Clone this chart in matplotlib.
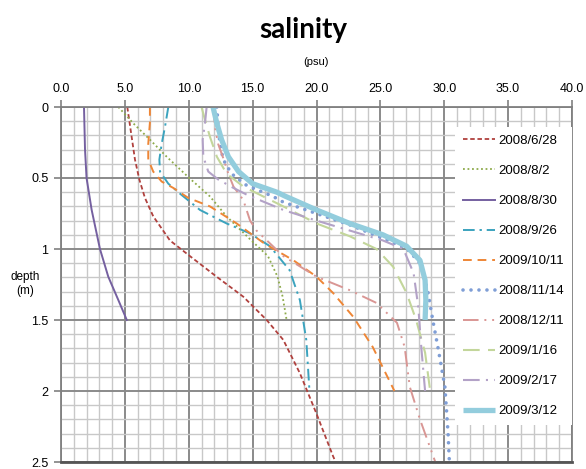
import numpy as np
import matplotlib
matplotlib.use('Agg')
import matplotlib.pyplot as plt
from matplotlib.ticker import MultipleLocator

# Perfiles de salinidad (psu) vs profundidad (m)
labels = ['2008/6/28', '2008/8/2', '2008/8/30', '2008/9/26', '2009/10/11',
          '2008/11/14', '2008/12/11', '2009/1/16', '2009/2/17', '2009/3/12']

d_0628 = [0, 0.21, 0.37, 0.51, 0.64, 0.77, 0.94, 1.05, 1.195, 1.336, 1.5, 1.64, 1.875, 2.16, 2.46, 2.5]
s_0628 = [5.19, 5.53, 5.79, 6.13, 6.57, 7.22, 8.53, 10.09, 12.18, 14.27, 16.1, 17.4, 18.7, 20.0, 21.3, 21.5]

d_0802 = [0, 0.115, 0.23, 0.35, 0.50, 0.63, 0.77, 0.94, 1.05, 1.195, 1.336, 1.5]
s_0802 = [4.49, 5.66, 6.96, 8.27, 10.04, 11.66, 12.96, 14.9, 16.2, 16.95, 17.35, 17.66]

d_0830 = [0, 0.3, 0.5, 0.725, 1.0, 1.195, 1.36, 1.5]
s_0830 = [1.8, 1.88, 2.0, 2.4, 3.05, 3.7, 4.49, 5.15]

d_0926 = [0, 0.14, 0.26, 0.37, 0.455, 0.54, 0.61, 0.725, 0.82, 0.89, 0.98, 1.15, 1.36, 1.64, 2.0]
s_0926 = [8.4, 8.14, 7.88, 7.7, 7.75, 8.4, 9.31, 10.88, 12.96, 14.79, 16.35, 17.9, 18.7, 19.2, 19.45]

d_1011 = [0, 0.11, 0.26, 0.37, 0.455, 0.525, 0.57, 0.64, 0.70, 0.82, 0.96, 1.08, 1.195, 1.31, 1.48, 1.69, 2.0]
s_1011 = [6.96, 6.96, 6.83, 6.83, 7.22, 7.88, 8.79, 9.96, 11.66, 13.75, 15.9, 18.2, 20.0, 21.3, 22.9, 24.4, 26.1]

d_1114 = [0, 0.14, 0.26, 0.37, 0.47, 0.55, 0.63, 0.67, 0.75, 0.83, 0.925, 0.995, 1.10, 1.29, 1.5, 1.69, 1.97, 2.30, 2.5]
s_1114 = [12.2, 12.3, 12.44, 12.7, 13.35, 14.5, 16.6, 17.4, 20.0, 22.6, 25.2, 27.05, 28.1, 28.7, 29.1, 29.5, 30.05, 30.3, 30.4]

d_1211 = [0, 0.14, 0.26, 0.36, 0.47, 0.56, 0.655, 0.80, 0.87, 1.05, 1.195, 1.29, 1.38, 1.52, 1.69, 1.97, 2.20, 2.5]
s_1211 = [11.92, 12.05, 12.3, 12.7, 13.1, 13.5, 14.27, 14.8, 15.3, 17.4, 20.0, 22.6, 24.7, 26.3, 26.9, 27.3, 28.1, 29.3]

d_0116 = [0, 0.09, 0.21, 0.35, 0.47, 0.56, 0.63, 0.70, 0.82, 0.91, 1.0, 1.125, 1.31, 1.5, 1.73, 2.0]
s_0116 = [11.0, 11.27, 11.66, 12.2, 12.97, 14.27, 15.83, 17.4, 20.0, 22.6, 24.7, 26.0, 27.05, 27.8, 28.5, 28.9]

d_0217 = [0, 0.115, 0.23, 0.35, 0.455, 0.51, 0.57, 0.62, 0.725, 0.80, 0.87, 0.94, 1.0, 1.17, 1.41, 1.69, 2.0]
s_0217 = [11.4, 11.27, 11.09, 11.14, 11.53, 12.3, 13.5, 14.6, 17.4, 20.0, 22.6, 25.2, 26.8, 27.6, 27.97, 28.2, 28.5]

d_0312 = [0, 0.115, 0.23, 0.35, 0.455, 0.54, 0.60, 0.63, 0.725, 0.82, 0.90, 0.98, 1.08, 1.22, 1.36, 1.5]
s_0312 = [11.9, 12.2, 12.57, 13.1, 13.9, 15.0, 16.9, 17.6, 20.0, 22.6, 25.2, 27.05, 28.1, 28.5, 28.56, 28.5]

fig = plt.figure(figsize=(5.86, 4.69), dpi=100)
ax = fig.add_axes([61/586, 1 - 462/469, 511/586, 355/469])

ax.plot(s_0628, d_0628, color='#B0413E', lw=1.3, dashes=(2.5, 1.5), label=labels[0])
ax.plot(s_0802, d_0802, color='#8DAA4A', lw=1.3, dashes=(1, 1.5), label=labels[1])
ax.plot(s_0830, d_0830, color='#7560A0', lw=1.4, label=labels[2])
ax.plot(s_0926, d_0926, color='#3BA3BE', lw=1.4, dashes=(6, 2.5, 1.2, 2.5), label=labels[3])
ax.plot(s_1011, d_1011, color='#EE8636', lw=1.4, dashes=(4.5, 3), label=labels[4])
ax.plot(s_1114, d_1114, color='#7F9ED6', lw=2.6, dashes=(0.01, 2.2), dash_capstyle='round', label=labels[5])
ax.plot(s_1211, d_1211, color='#D99694', lw=1.4, dashes=(8, 3, 1, 3, 1, 3), label=labels[6])
ax.plot(s_0116, d_0116, color='#C3D69B', lw=1.5, dashes=(8, 4), label=labels[7])
ax.plot(s_0217, d_0217, color='#B3A2C7', lw=1.5, dashes=(8, 3, 1, 3), label=labels[8])
ax.plot(s_0312, d_0312, color='#93CDDD', lw=3.8, solid_capstyle='butt', label=labels[9])

ax.set_xlim(0, 40)
ax.set_ylim(2.5, 0)
ax.xaxis.set_major_locator(MultipleLocator(5))
ax.xaxis.set_minor_locator(MultipleLocator(1))
ax.yaxis.set_major_locator(MultipleLocator(0.5))
ax.yaxis.set_minor_locator(MultipleLocator(0.1))
ax.set_xticks(np.arange(0, 41, 5))
ax.set_xticklabels([f'{v:.1f}' for v in np.arange(0, 41, 5)])
ax.set_yticks([0, 0.5, 1, 1.5, 2, 2.5])
ax.set_yticklabels(['0', '0.5', '1', '1.5', '2', '2.5'])

ax.xaxis.tick_top()
ax.tick_params(axis='both', which='major', direction='out', length=5, width=1.2,
               color='#808080', labelsize=9, pad=4)
ax.tick_params(axis='both', which='minor', length=0)
for lab in ax.get_xticklabels() + ax.get_yticklabels():
    lab.set_fontfamily('Liberation Sans')

ax.grid(which='minor', color='#c8c8c8', lw=1.0)
ax.grid(which='major', color='#8a8a8a', lw=1.4)
ax.set_axisbelow(True)
for s in ['left', 'top', 'right']:
    ax.spines[s].set_color('#808080')
    ax.spines[s].set_linewidth(1.3)
ax.spines['bottom'].set_color('#555555')
ax.spines['bottom'].set_linewidth(2)

leg = ax.legend(loc='upper left', bbox_to_anchor=(0.771, 0.944), borderaxespad=0,
                frameon=True, fancybox=False, edgecolor='none', facecolor='white',
                framealpha=1, handlelength=2.4, handletextpad=0.3, labelspacing=1.35,
                borderpad=0.6, prop={'family': 'Liberation Sans', 'size': 9.5})

fig.text(303/586, 1 - 30/469, 'salinity', ha='center', va='center',
         fontsize=20, fontweight='bold', family='Lato')
fig.text(316/586, 1 - 62/469, '(psu)', ha='center', va='center',
         fontsize=8, family='Liberation Sans')
fig.text(25/586, 1 - 284/469, 'depth\n(m)', ha='center', va='center',
         fontsize=8.5, family='Liberation Sans', linespacing=1.2)

fig.savefig('out.png', dpi=100)
